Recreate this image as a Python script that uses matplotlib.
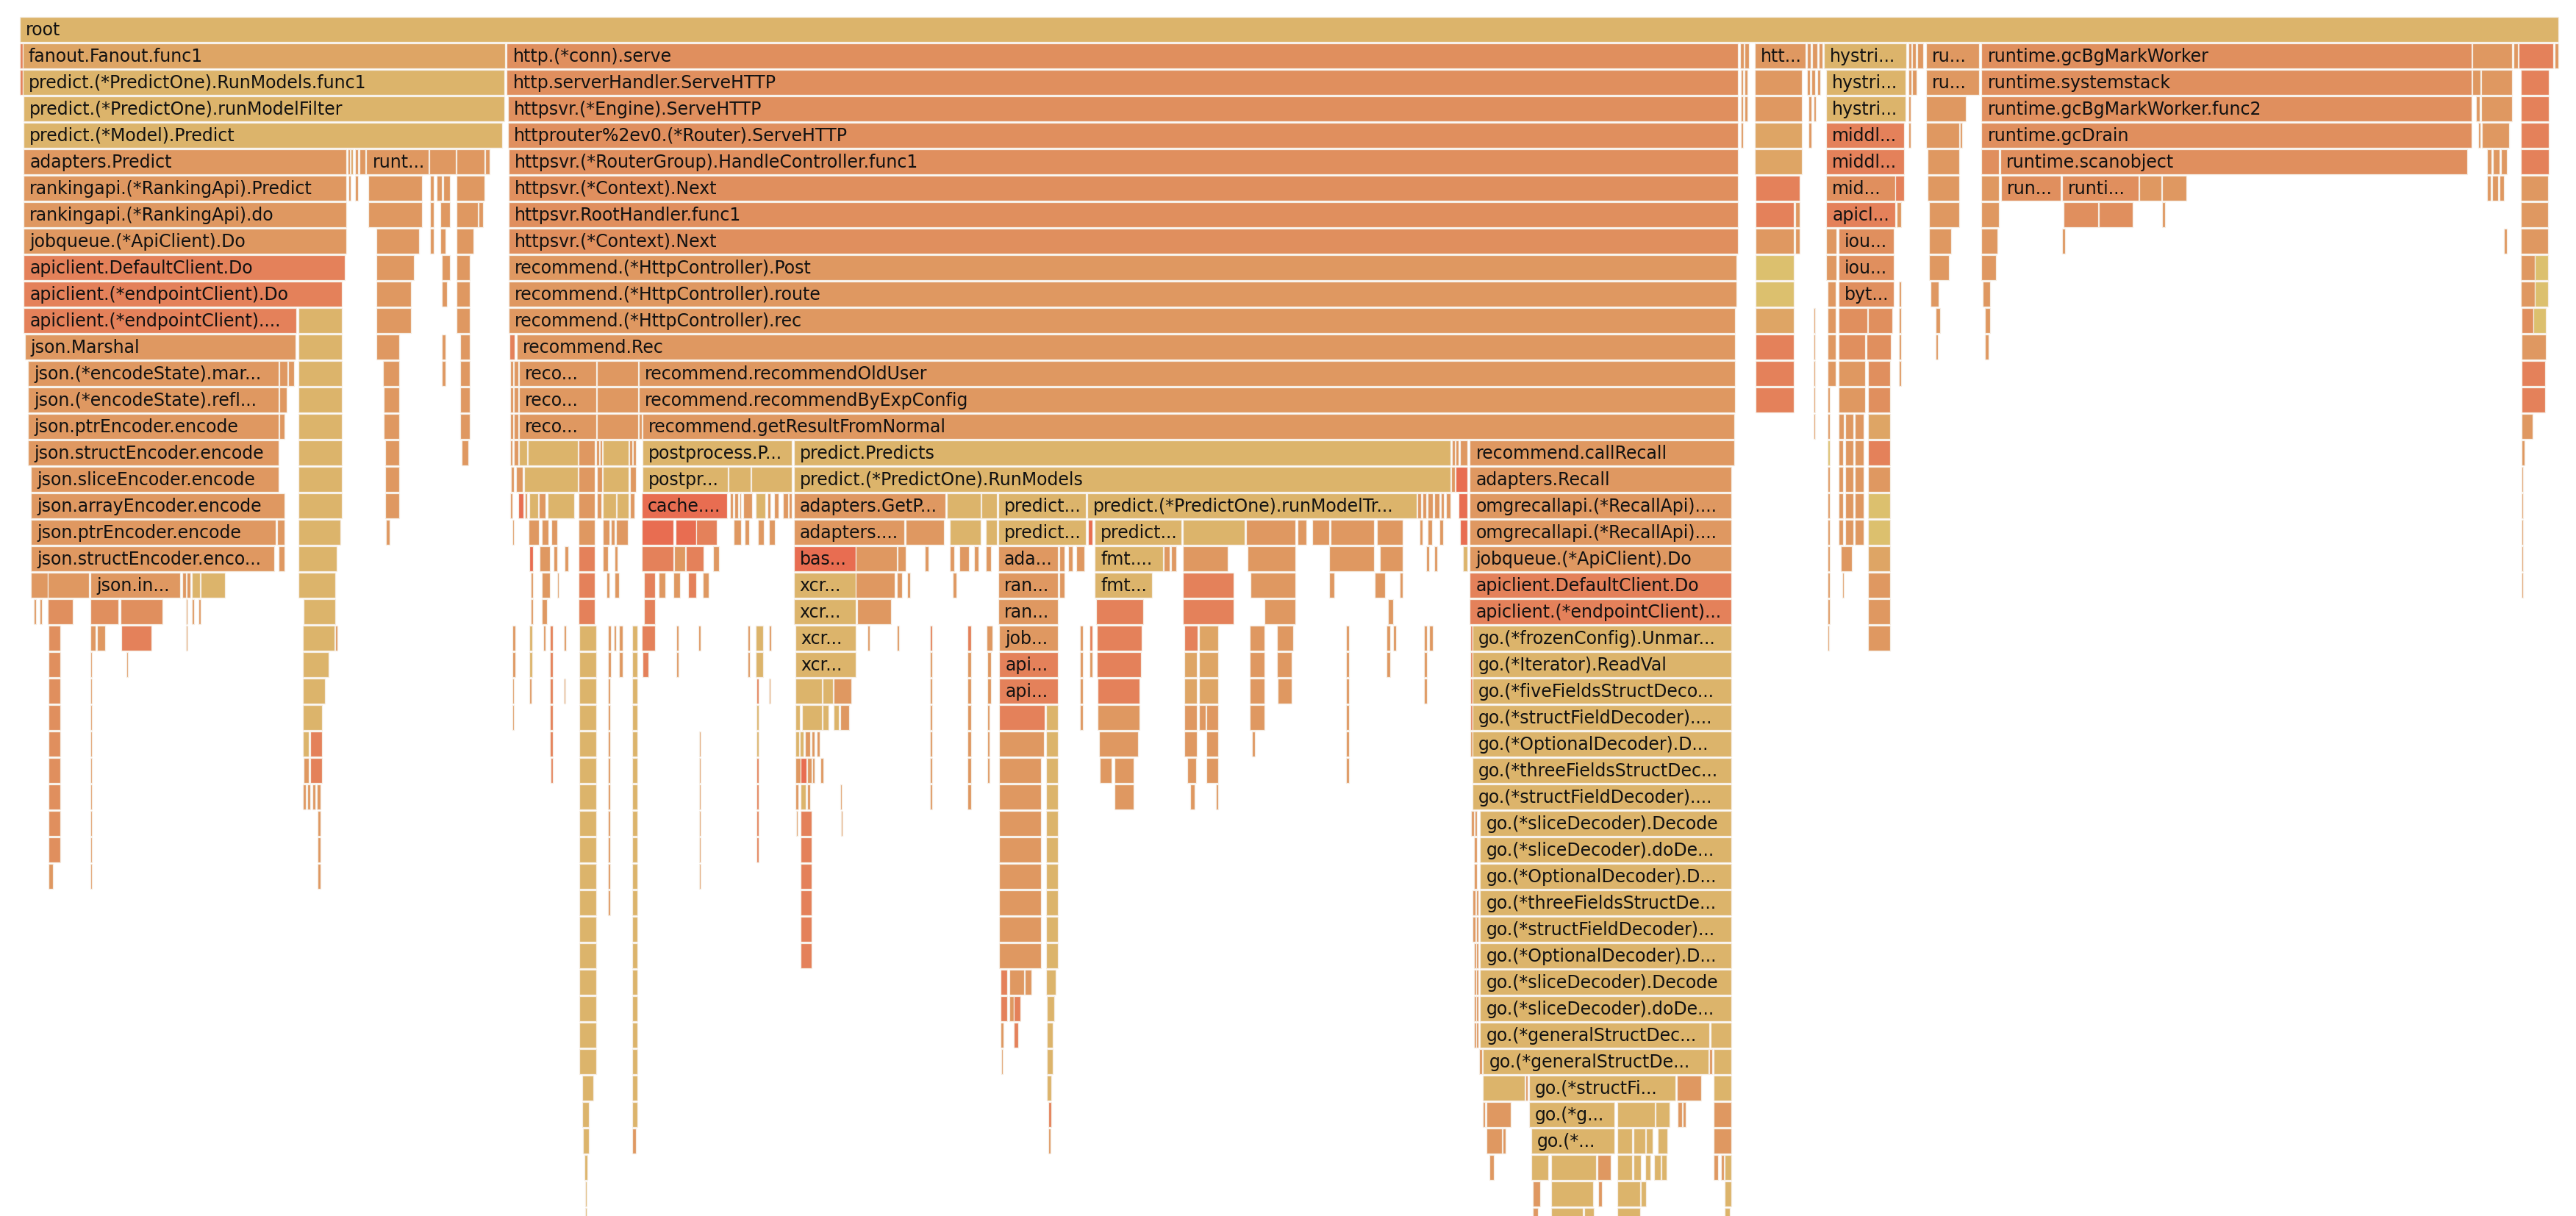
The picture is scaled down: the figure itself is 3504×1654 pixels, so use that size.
import matplotlib
matplotlib.use("Agg")
import matplotlib.pyplot as plt

# flame graph frames: (depth, start, end, label, colour key)
# positions are cumulative sample offsets, depth 0 = root

PALETTE = {
    "Y": "#dcb46b",   # yellow-tan
    "T": "#dea565",   # tan
    "L": "#df9861",   # light orange
    "O": "#e08f5e",   # orange
    "R": "#e4815a",   # red-orange
    "X": "#e86d51",   # hot red
    "G": "#dcc06e",   # pale yellow
}

root_frames = [
    (0, 12, 1557.4, "root", "Y"),
]

fanout_frames = [
    (1, 12, 13.7, "", "R"), (1, 13.7, 307.5, "fanout.Fanout.func1", "T"),
    (2, 12, 13.7, "", "R"), (2, 13.7, 307, "predict.(*PredictOne).RunModels.func1", "Y"),
    (3, 14.4, 307, "predict.(*PredictOne).runModelFilter", "Y"),
    (4, 14.4, 305.8, "predict.(*Model).Predict", "Y"),
    (5, 14.4, 210.6, "adapters.Predict", "L"), (5, 211.5, 213), (5, 213.5, 215, "", "T"),
    (5, 216, 218), (5, 219, 222.5), (5, 223, 261, "runt...", "L"), (5, 261.2, 277.3),
    (5, 278, 295), (5, 295.5, 298),
    (6, 14.4, 210.6, "rankingapi.(*RankingApi).Predict", "L"), (6, 212, 213.5), (6, 216, 218),
    (6, 224, 257), (6, 262, 264), (6, 266, 269), (6, 270, 274), (6, 278, 295),
    (7, 14.4, 210.6, "rankingapi.(*RankingApi).do", "L"), (7, 224, 257), (7, 262, 264),
    (7, 268, 274), (7, 278, 291), (7, 291.5, 294),
    (8, 14.4, 210.6, "jobqueue.(*ApiClient).Do", "L"), (8, 229, 255), (8, 262, 264),
    (8, 268, 271), (8, 278, 288),
    (9, 14.4, 210, "apiclient.DefaultClient.Do", "R"), (9, 229, 252), (9, 269, 274), (9, 278, 286),
    (10, 14.4, 208, "apiclient.(*endpointClient).Do", "R"), (10, 229, 250), (10, 269, 272),
    (10, 278, 286),
    (11, 14.4, 180.5, "apiclient.(*endpointClient)....", "R"), (11, 181.5, 208, "", "Y"),
    (11, 229, 250), (11, 278, 286),
    (12, 15, 180, "json.Marshal", "L"), (12, 181.5, 208, "", "Y"), (12, 229, 243),
    (12, 269, 271), (12, 280, 286),
    (13, 17, 169.5, "json.(*encodeState).mar...", "L"), (13, 170, 175), (13, 175.5, 179),
    (13, 181.5, 208, "", "Y"), (13, 233, 243), (13, 269, 271), (13, 280, 286),
    (14, 17, 169.5, "json.(*encodeState).refl...", "L"), (14, 170, 174.5),
    (14, 181.5, 208, "", "Y"), (14, 233.5, 243), (14, 280, 286),
    (15, 17, 169.5, "json.ptrEncoder.encode", "L"), (15, 170, 173), (15, 181.5, 208, "", "Y"),
    (15, 233.5, 243), (15, 280, 286),
    (16, 17, 169.5, "json.structEncoder.encode", "L"), (16, 181.5, 208, "", "Y"),
    (16, 234.5, 243), (16, 281, 285),
    (17, 19, 169.5, "json.sliceEncoder.encode", "L"), (17, 181.5, 208, "", "Y"), (17, 234.5, 243),
    (18, 19, 173, "json.arrayEncoder.encode", "L"), (18, 181.5, 208, "", "Y"), (18, 234.5, 243),
    (19, 19, 168, "json.ptrEncoder.encode", "L"), (19, 168.5, 173), (19, 181.5, 207, "", "Y"),
    (19, 235, 237),
    (20, 19, 167, "json.structEncoder.enco...", "L"), (20, 169.5, 173), (20, 181.5, 205, "", "Y"),
    (21, 19, 29), (21, 29.3, 54), (21, 55, 109.6, "json.in...", "L"), (21, 111, 113),
    (21, 113.5, 116), (21, 117, 121.5, "", "Y"), (21, 122, 137, "", "Y"), (21, 181.5, 204, "", "Y"),
    (22, 20.5, 22), (22, 24, 25.5), (22, 29, 44.5, "", "O"), (22, 55, 72, "", "O"),
    (22, 73.6, 99, "", "O"), (22, 113, 114), (22, 117, 118), (22, 121, 122), (22, 185, 204, "", "Y"),
    (23, 29.5, 36.8, "", "O"), (23, 55, 58), (23, 59, 64), (23, 74, 92, "", "R"), (23, 113, 114),
    (23, 184.5, 203.5, "", "Y"), (23, 204, 205.5),
    (24, 29.5, 36.8, "", "O"), (24, 55.2, 56), (24, 77, 78), (24, 184.5, 200, "", "Y"),
    (25, 29.5, 36.8, "", "O"), (25, 55.2, 56), (25, 184.5, 198, "", "Y"),
    (26, 29.5, 36.8, "", "O"), (26, 55.2, 56), (26, 184.5, 196, "", "Y"),
    (27, 29.5, 36.8, "", "O"), (27, 55.2, 56), (27, 184.5, 188, "", "Y"), (27, 188.7, 196, "", "R"),
    (28, 29.5, 36.8, "", "O"), (28, 55.2, 56), (28, 185, 188), (28, 188.7, 196, "", "R"),
    (29, 29.5, 36.8, "", "O"), (29, 55.2, 56), (29, 184.5, 186), (29, 187, 189), (29, 190, 192),
    (29, 193, 195),
    (30, 29.5, 36.8, "", "O"), (30, 55.2, 56), (30, 193.5, 195),
    (31, 29.5, 36.8, "", "O"), (31, 55.2, 56), (31, 193.5, 195),
    (32, 29.5, 32), (32, 55.2, 56), (32, 193.5, 195),
]

serve_frames = [
    (1, 308.5, 1058, "http.(*conn).serve", "O"), (1, 1059, 1061.5), (1, 1062, 1064.6),
    (2, 308.5, 1058, "http.serverHandler.ServeHTTP", "O"), (2, 1059.5, 1061), (2, 1062, 1063.5),
    (3, 309, 1058, "httpsvr.(*Engine).ServeHTTP", "O"), (3, 1059.5, 1061), (3, 1062, 1063.5),
    (4, 309, 1058, "httprouter%2ev0.(*Router).ServeHTTP", "O"), (4, 1059.5, 1061),
    (5, 309.5, 1058, "httpsvr.(*RouterGroup).HandleController.func1", "O"),
    (6, 309.5, 1058, "httpsvr.(*Context).Next", "O"),
    (7, 309.5, 1058, "httpsvr.RootHandler.func1", "O"),
    (8, 309.5, 1058, "httpsvr.(*Context).Next", "O"),
    (9, 309.5, 1057, "recommend.(*HttpController).Post", "L"),
    (10, 309.5, 1057, "recommend.(*HttpController).route", "L"),
    (11, 309.5, 1056, "recommend.(*HttpController).rec", "L"),
    (12, 310, 313.4, "", "R"), (12, 314.4, 1056, "recommend.Rec", "L"),
    (13, 310.7, 312.5), (13, 313, 315.3), (13, 316, 362.8, "reco...", "L"), (13, 363.3, 388.4),
    (13, 388.8, 1056, "recommend.recommendOldUser", "L"),
    (14, 310.7, 312.5), (14, 313, 315.3), (14, 316, 362.8, "reco...", "L"), (14, 363.3, 388.4),
    (14, 388.8, 1056, "recommend.recommendByExpConfig", "L"),
    (15, 310.7, 312.5), (15, 313, 315.3), (15, 316, 362.8, "reco...", "L"), (15, 363.3, 388.4),
    (15, 388.8, 390.6), (15, 391.1, 1055.5, "recommend.getResultFromNormal", "L"),
]

rec_left_frames = [
    (16, 310.7, 312), (16, 313, 315.3), (16, 316, 321, "", "Y"), (16, 321.5, 351.8, "", "Y"),
    (16, 352.3, 362), (16, 362.8, 364.5), (16, 365, 366.7), (16, 367.1, 382.7, "", "Y"),
    (16, 383, 385), (16, 385.5, 387), (16, 391.1, 482, "postprocess.P...", "Y"),
    (17, 311, 313), (17, 314, 318), (17, 319.2, 351.8, "", "Y"), (17, 352.3, 362),
    (17, 363.5, 366.7), (17, 367.1, 382.7, "", "Y"), (17, 383.5, 387),
    (17, 391.1, 443.2, "postpr...", "Y"), (17, 443.6, 456.9, "", "Y"), (17, 457.5, 482, "", "Y"),
    (18, 310.7, 312), (18, 315.3, 318.7, "", "X"), (18, 319.5, 321), (18, 322, 327.5, "", "Y"),
    (18, 328, 332), (18, 333.6, 349.5, "", "Y"), (18, 352.3, 362), (18, 363.5, 366),
    (18, 367.1, 375, "", "Y"), (18, 375.5, 382.7, "", "Y"), (18, 383.5, 386),
    (18, 390.6, 442.5, "cache....", "X"), (18, 444.3, 446), (18, 447, 449.5), (18, 450, 451.2),
    (18, 452.3, 458), (18, 459.8, 466, "", "Y"), (18, 467, 469), (18, 471, 474), (18, 476.7, 479.7),
    (18, 480.2, 482),
    (19, 312, 313), (19, 321.7, 327.9), (19, 330, 334), (19, 335.5, 339), (19, 352.3, 362),
    (19, 367, 371), (19, 372, 374), (19, 375, 382), (19, 390.6, 410, "", "X"),
    (19, 411.2, 423.7, "", "X"), (19, 423.7, 436.3, "", "R"), (19, 446.5, 451.2), (19, 453.5, 456),
    (19, 461.5, 465), (19, 468, 471.5),
    (20, 322.2, 324.4, "", "X"), (20, 328.3, 334.7), (20, 337, 339), (20, 343.5, 346),
    (20, 352.3, 362, "", "R"), (20, 367, 370), (20, 374, 376), (20, 390.6, 410, "", "R"),
    (20, 410.5, 417), (20, 417.5, 428.3, "", "R"), (20, 434, 437.5),
    (21, 323, 324.5), (21, 330, 334.7), (21, 339, 340), (21, 352.3, 362, "", "R"), (21, 369, 371),
    (21, 374, 377), (21, 391.8, 398.6, "", "R"), (21, 401, 405), (21, 410, 414),
    (21, 419, 423.7, "", "R"), (21, 428, 431.5),
    (22, 323, 324.5), (22, 330, 333), (22, 352.3, 362, "", "R"), (22, 391.8, 398.6, "", "R"),
    (23, 311.8, 313.5), (23, 322, 324, "", "Y"), (23, 330.5, 332), (23, 334.6, 336.4, "", "R"),
    (23, 343, 344.5), (23, 352.8, 362.7, "", "Y"), (23, 370, 372), (23, 373.5, 375), (23, 377, 379),
    (23, 384.7, 388, "", "Y"), (23, 390.5, 398.7, "", "R"), (23, 411.5, 413), (23, 425, 426.5),
    (23, 455, 456.5), (23, 460, 464.4, "", "Y"), (23, 468, 469.5),
    (24, 311.8, 313.5), (24, 322, 324, "", "Y"), (24, 334.6, 336.4, "", "R"),
    (24, 352.8, 362.7, "", "Y"), (24, 370, 372), (24, 377, 379), (24, 384.7, 388, "", "Y"),
    (24, 391, 394.5, "", "R"), (24, 411.5, 413), (24, 455, 456.5), (24, 460, 464.4, "", "Y"),
    (25, 311.8, 313), (25, 322, 323.5), (25, 334.6, 336.4, "", "R"), (25, 343, 344),
    (25, 352.8, 362.7, "", "Y"), (25, 370, 371.5), (25, 384.7, 388, "", "Y"),
    (25, 460.5, 462, "", "R"), (25, 468, 469),
    (26, 311.8, 313), (26, 334.6, 336.4, "", "R"), (26, 352.8, 362.7, "", "Y"),
    (26, 370, 371.5), (26, 384.7, 388, "", "Y"), (26, 460.5, 462, "", "Y"),
    (27, 334.6, 336.4, "", "R"), (27, 352.8, 362.7, "", "Y"), (27, 370, 371.5),
    (27, 384.7, 388, "", "Y"), (27, 425.6, 426.6), (27, 460.5, 462, "", "Y"),
    (28, 335, 336.4, "", "R"), (28, 352.8, 362.7, "", "Y"), (28, 370, 371.5),
    (28, 384.7, 388, "", "Y"), (28, 425.6, 426.6), (28, 460.5, 462, "", "R"),
]

predicts_frames = [
    (16, 483.1, 882.8, "predict.Predicts", "Y"), (16, 883.8, 885.5), (16, 886, 888),
    (16, 888.5, 893),
    (17, 483.1, 882.8, "predict.(*PredictOne).RunModels", "Y"), (17, 883.5, 885.5),
    (17, 886.2, 893, "", "X"),
    (18, 483.1, 575.6, "adapters.GetP...", "L"), (18, 576.3, 596.8, "", "Y"),
    (18, 597.3, 607, "", "Y"), (18, 607.7, 660.8, "predict...", "Y"),
    (18, 661.9, 862.2, "predict.(*PredictOne).runModelTr...", "Y"), (18, 862.6, 865),
    (18, 866, 868), (18, 869, 872), (18, 873, 876), (18, 877, 879), (18, 880, 882.8),
    (18, 887.9, 893, "", "X"),
    (19, 483.1, 550.5, "adapters....", "L"), (19, 551.2, 574.4, "", "L"),
    (19, 578, 596.8, "", "Y"), (19, 600, 607, "", "Y"), (19, 607.7, 660.8, "predict...", "Y"),
    (19, 662.5, 665, "", "X"), (19, 666.3, 719, "predict...", "Y"), (19, 720, 757.7, "", "Y"),
    (19, 758.4, 788.6, "", "L"), (19, 790, 795), (19, 798.8, 809, "", "L"),
    (19, 809.8, 836.5, "", "L"), (19, 838, 853.6, "", "L"), (19, 864, 866), (19, 869, 871.5),
    (19, 876, 878.5), (19, 888.9, 893, "", "X"),
    (20, 483.1, 520.8, "bas...", "X"), (20, 520.8, 545.9, "", "L"), (20, 546.5, 551.5),
    (20, 563, 565), (20, 578, 581), (20, 584, 590), (20, 593, 595.5), (20, 600, 603),
    (20, 607.7, 644, "ada...", "L"), (20, 645, 648), (20, 650, 653), (20, 655, 660),
    (20, 666.3, 708, "fmt....", "Y"), (20, 708.5, 712), (20, 713, 716), (20, 720, 747.5, "", "L"),
    (20, 759.5, 788.6, "", "L"), (20, 809.1, 836.5, "", "L"), (20, 840, 853.6, "", "L"),
    (20, 868, 870), (20, 873, 875), (20, 890.5, 893, "", "Y"),
    (21, 483.1, 520.8, "xcr...", "Y"), (21, 520.8, 544.8, "", "L"), (21, 546, 549), (21, 552, 554),
    (21, 580, 582), (21, 607.7, 644, "ran...", "L"), (21, 645, 648),
    (21, 666.3, 701.3, "fmt...", "Y"), (21, 720, 750.9, "", "R"), (21, 761.2, 788.6, "", "L"),
    (21, 809, 812), (21, 837, 843), (21, 852, 854),
    (22, 483.1, 520.8, "xcr...", "Y"), (22, 521.9, 542.5, "", "L"), (22, 607.7, 644, "ran...", "L"),
    (22, 667, 696, "", "R"), (22, 720, 750.9, "", "R"), (22, 769.7, 788.6, "", "L"), (22, 845, 848),
    (23, 484, 521, "xcr...", "Y"), (23, 528, 529.5), (23, 546, 547.5), (23, 566, 567.5, "", "R"),
    (23, 589, 591, "", "R"), (23, 600.6, 604), (23, 608.3, 643.8, "job...", "L"), (23, 657.5, 659),
    (23, 663, 665, "", "R"), (23, 667.6, 695.1, "", "R"), (23, 720.8, 729, "", "R"),
    (23, 729.8, 741.4, "", "T"), (23, 760.6, 769.6, "", "L"), (23, 777.3, 787.1, "", "L"),
    (23, 819.5, 821), (23, 844, 846), (23, 848, 850), (23, 867, 868.5), (23, 870, 872),
    (24, 484, 521, "xcr...", "Y"), (24, 566, 567.5), (24, 589, 591), (24, 601, 603),
    (24, 608.3, 643.8, "api...", "R"), (24, 657.5, 659), (24, 663, 665), (24, 667.6, 694.6, "", "R"),
    (24, 720.8, 728.6, "", "T"), (24, 729.8, 741.4, "", "T"), (24, 760.6, 769.6, "", "L"),
    (24, 777.3, 786.3, "", "L"), (24, 819.5, 821), (24, 844, 846), (24, 867, 868.5),
    (25, 484, 500.5, "", "Y"), (25, 500.7, 507, "", "Y"), (25, 507.6, 518, "", "L"),
    (25, 566, 567.5), (25, 589, 591), (25, 601, 603), (25, 608.3, 643.8, "api...", "R"),
    (25, 657.5, 659), (25, 668, 693.8, "", "R"), (25, 720.8, 728.6, "", "T"),
    (25, 729.8, 741.4, "", "T"), (25, 760.6, 769.6, "", "L"), (25, 777.8, 786.3, "", "L"),
    (25, 819.5, 821), (25, 867, 868.5),
    (26, 484, 487, "", "Y"), (26, 488, 500.5, "", "Y"), (26, 500.7, 504.5, "", "Y"),
    (26, 507.6, 510.7, "", "Y"), (26, 511.5, 517, "", "L"), (26, 566, 567.5), (26, 589, 591),
    (26, 601, 602.5), (26, 608.3, 636, "", "R"), (26, 636.6, 643.8, "", "Y"), (26, 657.5, 659),
    (26, 668, 693.8, "", "L"), (26, 720.8, 728.6, "", "L"), (26, 729.8, 733.7, "", "L"),
    (26, 734.2, 741.4, "", "L"), (26, 760.6, 769.6, "", "L"), (26, 819.5, 821),
    (27, 484, 486.5, "", "Y"), (27, 487, 489, "", "Y"), (27, 490, 493), (27, 494, 496),
    (27, 497, 499), (27, 566, 567.5), (27, 589, 591), (27, 601, 602.5), (27, 608.3, 635.5, "", "L"),
    (27, 636.6, 643.8, "", "Y"), (27, 668.9, 692.6, "", "L"), (27, 720.8, 728.6, "", "L"),
    (27, 734.2, 741.4, "", "L"), (27, 762, 764), (27, 819.5, 821),
    (28, 484, 487.2), (28, 487.4, 491, "", "X"), (28, 491.5, 494), (28, 494.5, 496),
    (28, 499.5, 501), (28, 566, 567.5), (28, 589, 591), (28, 601, 602.5),
    (28, 608.3, 633.5, "", "L"), (28, 636.6, 643.8, "", "Y"), (28, 669.4, 676.6, "", "L"),
    (28, 678.4, 690, "", "L"), (28, 722.9, 728), (28, 734.2, 741.4, "", "L"), (28, 819.5, 821),
    (29, 484, 486), (29, 487.4, 490.5, "", "Y"), (29, 491.5, 493), (29, 511.5, 512.5),
    (29, 566, 567.5), (29, 589, 591), (29, 608.3, 633.5, "", "L"), (29, 636.6, 643.8, "", "Y"),
    (29, 678.4, 690, "", "L"), (29, 724.7, 727.2), (29, 740, 741.4),
    (30, 484.5, 485.5), (30, 487.4, 494, "", "R"), (30, 512, 513), (30, 608.3, 633.5, "", "L"),
    (30, 636.6, 643.8, "", "Y"),
    (31, 487.4, 494, "", "R"), (31, 608.3, 633.5, "", "L"), (31, 636.6, 643.8, "", "Y"),
    (32, 487.4, 494, "", "R"), (32, 608.3, 633.5, "", "L"), (32, 636.6, 643.8, "", "Y"),
    (33, 487.4, 494, "", "R"), (33, 608.3, 633.5, "", "L"), (33, 636.6, 643.8, "", "Y"),
    (34, 487.4, 494, "", "R"), (34, 608.3, 633.5, "", "L"), (34, 636.6, 643.8, "", "Y"),
    (35, 487.4, 494, "", "R"), (35, 608.3, 633.5, "", "L"), (35, 636.6, 643.8, "", "Y"),
    (36, 609, 613, "", "R"), (36, 614.2, 623.2, "", "L"), (36, 624, 628), (36, 636.6, 642.5, "", "Y"),
    (37, 609, 613, "", "R"), (37, 614.2, 617), (37, 617.3, 621, "", "R"), (37, 637.3, 641.7, "", "Y"),
    (38, 609, 610.8), (38, 617.3, 619.9, "", "R"), (38, 637.3, 640.7, "", "Y"),
    (39, 609.5, 610.5), (39, 637.3, 640.7, "", "Y"),
    (40, 637.3, 640, "", "Y"),
    (41, 638, 640, "", "R"),
    (42, 638, 639.5),
]

rec_column_frames = [
    (29, 352.8, 362.7, "", "Y"), (29, 384.7, 388, "", "Y"), (29, 425.6, 426.6),
    (29, 460.5, 462, "", "R"), (29, 370, 371.5),
    (30, 352.8, 362.7, "", "Y"), (30, 384.7, 388, "", "Y"), (30, 425.6, 426.6), (30, 370, 371.5),
    (30, 460.5, 462, "", "R"),
    (31, 352.8, 362.7, "", "Y"), (31, 384.7, 388, "", "Y"), (31, 425.6, 426.6), (31, 370, 371.5),
    (31, 460.5, 462, "", "R"),
    (32, 352.8, 362.7, "", "Y"), (32, 384.7, 388, "", "Y"), (32, 425.6, 426.6), (32, 370, 371.5),
    (33, 352.8, 362.7, "", "Y"), (33, 384.7, 388, "", "Y"), (33, 370, 371.5),
    (34, 352.8, 362.7, "", "Y"), (34, 384.7, 388, "", "Y"),
    (35, 352.8, 362.7, "", "Y"), (35, 384.7, 388, "", "Y"),
    (36, 352.8, 362.7, "", "Y"), (36, 384.7, 388, "", "Y"),
    (37, 352.8, 362.7, "", "Y"), (37, 384.7, 388, "", "Y"),
    (38, 352.8, 362.7, "", "Y"), (38, 384.7, 388, "", "Y"),
    (39, 352.8, 362.7, "", "Y"), (39, 384.7, 388, "", "Y"),
    (40, 354.3, 361, "", "Y"), (40, 384.7, 388, "", "Y"),
    (41, 354.3, 358.3, "", "Y"), (41, 385, 388, "", "Y"),
    (42, 355, 358.3, "", "Y"), (42, 385, 387),
    (43, 355.7, 357.6, "", "Y"),
    (44, 356, 357, "", "Y"),
    (45, 356.3, 357, "", "Y"),
]

recall_frames = [
    (16, 894.7, 1055.5, "recommend.callRecall", "L"),
    (17, 894.7, 1054, "adapters.Recall", "L"),
    (18, 894.7, 1054, "omgrecallapi.(*RecallApi)....", "L"),
    (19, 894.7, 1054, "omgrecallapi.(*RecallApi)....", "L"),
    (20, 894.7, 1054, "jobqueue.(*ApiClient).Do", "L"),
    (21, 894.7, 1054, "apiclient.DefaultClient.Do", "R"),
    (22, 894.7, 1054, "apiclient.(*endpointClient)...", "R"),
    (23, 894.9, 896.1, "", "R"), (23, 896.1, 1053.9, "go.(*frozenConfig).Unmar...", "Y"),
    (24, 894.9, 896.1, "", "R"), (24, 896.1, 1053.9, "go.(*Iterator).ReadVal", "Y"),
    (25, 894.9, 896.1, "", "R"), (25, 896.1, 1053.9, "go.(*fiveFieldsStructDeco...", "Y"),
    (26, 894.9, 896.1, "", "R"), (26, 896.1, 1053.9, "go.(*structFieldDecoder)....", "Y"),
    (27, 895, 896.1), (27, 896.1, 1053.9, "go.(*OptionalDecoder).D...", "Y"),
    (28, 896.1, 1053.9, "go.(*threeFieldsStructDec...", "Y"),
    (29, 896.1, 1053.9, "go.(*structFieldDecoder)....", "Y"),
    (30, 895.5, 897), (30, 897.5, 899), (30, 900.9, 1053.9, "go.(*sliceDecoder).Decode", "Y"),
    (31, 897, 899), (31, 900.9, 1053.9, "go.(*sliceDecoder).doDe...", "Y"),
    (32, 897, 899), (32, 900.9, 1053.9, "go.(*OptionalDecoder).D...", "Y"),
    (33, 896.5, 898), (33, 898.5, 900), (33, 900.9, 1053.9, "go.(*threeFieldsStructDe...", "Y"),
    (34, 896.5, 898), (34, 898.5, 900), (34, 900.9, 1053.9, "go.(*structFieldDecoder)...", "Y"),
    (35, 897, 898.5), (35, 898.5, 900), (35, 900.9, 1053.9, "go.(*OptionalDecoder).D...", "Y"),
    (36, 897, 898.5), (36, 898.5, 900), (36, 900.9, 1053.9, "go.(*sliceDecoder).Decode", "Y"),
    (37, 897, 898.5), (37, 898.5, 900), (37, 900.9, 1053.9, "go.(*sliceDecoder).doDe...", "Y"),
    (38, 897, 898.5), (38, 898.5, 900), (38, 900.9, 1040.2, "go.(*generalStructDec...", "Y"),
    (38, 1041.3, 1053.9, "", "Y"),
    (39, 900.5, 902), (39, 902.7, 1039.8, "go.(*generalStructDe...", "Y"),
    (39, 1040.5, 1042), (39, 1042.9, 1053.9, "", "Y"),
    (40, 902.7, 927.9, "", "Y"), (40, 928.5, 930), (40, 930.7, 1019.8, "go.(*structFi...", "Y"),
    (40, 1020.6, 1035.5, "", "L"), (40, 1042.9, 1053.9, "", "Y"),
    (41, 902.7, 903.8), (41, 904.8, 919.4, "", "L"), (41, 930.7, 982.5, "go.(*g...", "Y"),
    (41, 984.4, 1007.3, "", "Y"), (41, 1007.9, 1016.2, "", "Y"), (41, 1021, 1024, "", "L"),
    (41, 1024.5, 1026), (41, 1042.9, 1053.9, "", "L"),
    (42, 904.8, 914.2, "", "L"), (42, 914.7, 916.5), (42, 932.2, 982.5, "go.(*...", "Y"),
    (42, 984.4, 993.5, "", "Y"), (42, 994.2, 1001.6, "", "Y"), (42, 1002, 1006, "", "Y"),
    (42, 1009, 1015, "", "Y"), (42, 1042.9, 1053.9, "", "L"),
    (43, 906.4, 909.5, "", "L"), (43, 932.2, 942.4, "", "Y"), (43, 944, 971.5, "", "Y"),
    (43, 972.3, 980.6, "", "L"), (43, 984.4, 993.5, "", "Y"), (43, 994.5, 999, "", "Y"),
    (43, 1001.6, 1004.5, "", "Y"), (43, 1006.8, 1010.7, "", "Y"), (43, 1011.5, 1014.6, "", "Y"),
    (43, 1042.9, 1046, "", "L"), (43, 1047.7, 1049.3), (43, 1050, 1053.9, "", "Y"),
    (44, 933, 937.7, "", "L"), (44, 944, 969.9, "", "Y"), (44, 973, 975, "", "L"),
    (44, 984.4, 998.2, "", "Y"), (44, 999, 1002, "", "Y"), (44, 1050, 1053.9, "", "Y"),
    (45, 933, 936, "", "L"), (45, 944, 963.6, "", "Y"), (45, 964.4, 970, "", "Y"),
    (45, 984.4, 998.2, "", "Y"), (45, 1050, 1053, "", "Y"),
]

runtime_frames = [
    (1, 1068, 1099, "htt...", "L"), (1, 1100, 1102), (1, 1103, 1106), (1, 1107, 1109.5),
    (1, 1110, 1160.5, "hystri...", "Y"), (1, 1161.5, 1163.5), (1, 1164, 1166), (1, 1167, 1170.8),
    (1, 1172.5, 1204.5, "ru...", "L"), (1, 1206.2, 1504.5, "runtime.gcBgMarkWorker", "O"),
    (1, 1505.1, 1529.2), (1, 1530, 1532.6), (1, 1533.3, 1554, "", "R"), (1, 1555, 1557.4),
    (2, 1068, 1097), (2, 1100, 1101.5), (2, 1102.5, 1105), (2, 1106, 1108),
    (2, 1111.7, 1159.8, "hystri...", "Y"), (2, 1161.5, 1163.5), (2, 1164, 1166.5),
    (2, 1172.5, 1204.5, "ru...", "L"), (2, 1206.2, 1504.5, "runtime.systemstack", "O"),
    (2, 1505.1, 1510), (2, 1510.3, 1529.2), (2, 1534.3, 1551.5, "", "R"),
    (3, 1068, 1097), (3, 1101, 1102.5), (3, 1104, 1105.5), (3, 1111.7, 1159.8, "hystri...", "Y"),
    (3, 1161.5, 1163), (3, 1172.5, 1196.6), (3, 1206.2, 1504.5, "runtime.gcBgMarkWorker.func2", "O"),
    (3, 1507, 1509.5), (3, 1510.3, 1529.2), (3, 1534.3, 1551.5, "", "R"),
    (4, 1068, 1097, "", "T"), (4, 1101, 1102.5), (4, 1111.7, 1159, "middl...", "R"),
    (4, 1161.5, 1163), (4, 1172.5, 1192.4), (4, 1193, 1194.5),
    (4, 1206.2, 1504.5, "runtime.gcDrain", "O"), (4, 1508.6, 1510), (4, 1510.5, 1527.5),
    (4, 1534.3, 1551.5, "", "R"),
    (5, 1068, 1097, "", "T"), (5, 1111.7, 1159, "middl...", "R"), (5, 1173.5, 1192.4),
    (5, 1206.2, 1216.5, "", "O"), (5, 1217.5, 1501.7, "runtime.scanobject", "O"),
    (5, 1513.7, 1516.5), (5, 1517.5, 1521.5), (5, 1522.5, 1525.8), (5, 1534.3, 1551.5, "", "R"),
    (6, 1068.7, 1095.5, "", "R"), (6, 1111.7, 1153.6, "mid...", "O"), (6, 1153.6, 1159, "", "R"),
    (6, 1173.5, 1192.4), (6, 1206.2, 1216.5), (6, 1218.2, 1254.3, "run...", "O"),
    (6, 1255, 1301.7, "runti...", "O"), (6, 1302.4, 1315.5), (6, 1316.1, 1330.9),
    (6, 1513.7, 1516), (6, 1517, 1520.5), (6, 1521.5, 1524), (6, 1534.3, 1551),
    (7, 1068.7, 1092, "", "R"), (7, 1092.8, 1095.5), (7, 1111.7, 1153.6, "apicl...", "R"),
    (7, 1154.5, 1157), (7, 1174.2, 1192.4), (7, 1206.2, 1216.5), (7, 1256, 1277.3, "", "O"),
    (7, 1277.7, 1298.3, "", "O"), (7, 1316.1, 1318), (7, 1534.3, 1551),
    (8, 1068.7, 1092), (8, 1092.8, 1095.5), (8, 1111.7, 1118), (8, 1119.2, 1152.9, "iou...", "O"),
    (8, 1174.2, 1187.5), (8, 1206.2, 1215.8), (8, 1255, 1256.8), (8, 1524, 1526), (8, 1534.3, 1551),
    (9, 1068.7, 1092, "", "G"), (9, 1111.7, 1118), (9, 1119.2, 1152.9, "iou...", "O"),
    (9, 1174.2, 1186.3), (9, 1206.2, 1214.8), (9, 1534.3, 1542.8), (9, 1543, 1551, "", "G"),
    (10, 1068.7, 1092, "", "G"), (10, 1112.5, 1117.5), (10, 1119.2, 1152.9, "byt...", "O"),
    (10, 1156, 1157.2), (10, 1175, 1180), (10, 1206.9, 1211.3), (10, 1534.3, 1542.8),
    (10, 1543, 1551, "", "G"),
    (11, 1068.7, 1091.8, "", "T"), (11, 1103.8, 1105), (11, 1112.5, 1117.5), (11, 1119, 1136.6, "", "O"),
    (11, 1137.2, 1152, "", "O"), (11, 1156, 1157.2), (11, 1178.4, 1181), (11, 1208, 1211.3),
    (11, 1535, 1542, "", "O"), (11, 1542.2, 1549.5, "", "G"),
    (12, 1068.7, 1091.8, "", "R"), (12, 1103.8, 1105), (12, 1112.5, 1117.5), (12, 1119, 1135.5, "", "O"),
    (12, 1136, 1151, "", "O"), (12, 1156, 1157.2), (12, 1178.4, 1179.5), (12, 1208, 1210.5),
    (12, 1535, 1549.5),
    (13, 1068.7, 1091.8, "", "R"), (13, 1103.8, 1105), (13, 1112.5, 1117.5), (13, 1119, 1135.5),
    (13, 1137.2, 1150.6, "", "O"), (13, 1156, 1157), (13, 1535, 1549, "", "R"),
    (14, 1068.7, 1091.8, "", "R"), (14, 1103.8, 1105), (14, 1112.5, 1114), (14, 1119, 1135.5),
    (14, 1137.2, 1150.6, "", "O"), (14, 1535, 1549, "", "R"),
    (15, 1103.8, 1105), (15, 1112.5, 1114), (15, 1119, 1122.4), (15, 1123.4, 1128),
    (15, 1129, 1134.6), (15, 1137.2, 1150.6, "", "T"), (15, 1535, 1541.6),
    (16, 1112.5, 1114, "", "G"), (16, 1119, 1122), (16, 1123.4, 1128), (16, 1129, 1134.6),
    (16, 1137.2, 1150.6, "", "R"), (16, 1535, 1536.5),
    (17, 1112.5, 1114), (17, 1119, 1122), (17, 1123.4, 1128), (17, 1129, 1134.6),
    (17, 1137.2, 1150.6, "", "L"), (17, 1535, 1536),
    (18, 1112.5, 1114), (18, 1119, 1122), (18, 1123.4, 1128), (18, 1129, 1134.6),
    (18, 1137.2, 1150.6, "", "G"), (18, 1535, 1536),
    (19, 1112.5, 1114), (19, 1119, 1122), (19, 1123.4, 1128), (19, 1129, 1134.6),
    (19, 1137.2, 1150.6, "", "G"), (19, 1535, 1536),
    (20, 1112.5, 1113.8), (20, 1120.7, 1127.4), (20, 1137.2, 1150.6, "", "T"), (20, 1535, 1536),
    (21, 1112.5, 1113.8), (21, 1121.5, 1122.5), (21, 1137.2, 1150.6, "", "L"), (21, 1535, 1536),
    (22, 1112.5, 1113.8), (22, 1137.2, 1150.6, "", "L"),
    (23, 1112.5, 1113.5), (23, 1137.2, 1150.6, "", "L"),
]

ALL_FRAMES = (root_frames + fanout_frames + serve_frames + rec_left_frames +
              rec_column_frames + predicts_frames + recall_frames + runtime_frames)


def normalise(frame):
    depth, start, end = frame[:3]
    label = frame[3] if len(frame) > 3 else ""
    colour = frame[4] if len(frame) > 4 else "L"
    return depth, start, end, label, colour


def draw_flame(ax, frames):
    for fr in frames:
        depth, start, end, label, colour = normalise(fr)
        bars = ax.barh(depth, end - start, left=start, height=0.945,
                       color=PALETTE[colour], edgecolor="#f5ede3", linewidth=0.9)
        if label:
            txt = ax.text(start + 3.6, depth + 0.03, label, fontsize=17,
                          va="center", ha="left", color="#111111")
            txt.set_clip_path(bars.patches[0])


fig = plt.figure(figsize=(35.04, 16.54), dpi=100)
ax = fig.add_axes([0, 0, 1, 1])
draw_flame(ax, ALL_FRAMES)
ax.set_xlim(0, 1568)
ax.set_ylim(44.84, -1.103)
ax.axis("off")
fig.savefig("out.png", dpi=100, facecolor="white")
